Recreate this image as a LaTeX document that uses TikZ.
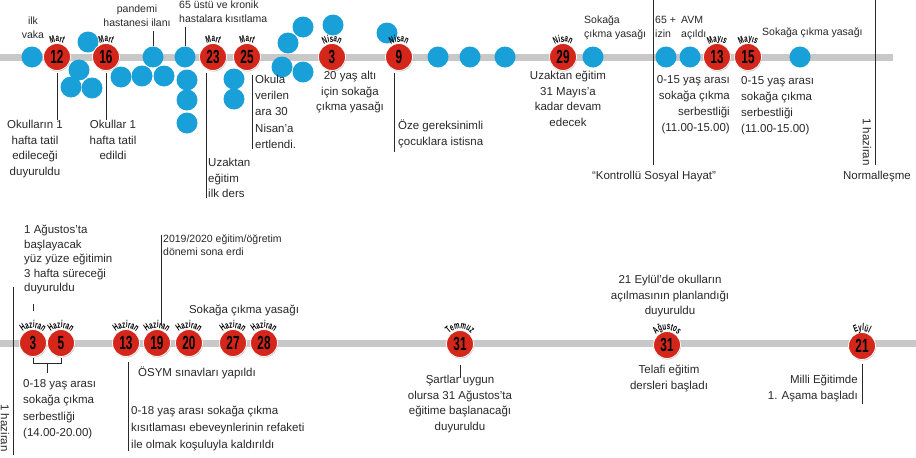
\documentclass[tikz,border=0pt]{standalone}
\usepackage{fontspec}
\setmainfont{Liberation Sans}
\newfontfamily\numfont{Liberation Sans}[FakeStretch=0.62]
\usetikzlibrary{calc,decorations.text,shadows}

\definecolor{pinred}{RGB}{212,38,26}
\definecolor{dotblue}{RGB}{26,160,216}
\definecolor{trackgray}{RGB}{200,200,200}
\definecolor{inkgray}{RGB}{40,40,40}

\newcommand{\monthfont}{\numfont\bfseries\fontsize{10}{10}\selectfont}

\tikzset{
  redpin/.style={circle, fill=pinred, draw=white, line width=0.8pt,
    minimum size=27pt, inner sep=0pt, text=black,
    font=\numfont\bfseries\fontsize{19}{19}\selectfont,
    drop shadow={shadow xshift=0.5pt, shadow yshift=-1pt, opacity=0.45}},
  bluedot/.style={circle, fill=dotblue, minimum size=21pt, inner sep=0pt},
  track/.style={trackgray, line width=7pt},
  note/.style={font=\fontsize{11.5}{#1}\selectfont, text=inkgray,
    inner sep=0pt, align=center},
  note/.default=15.5,
  topnote/.style={note, font=\fontsize{10.5}{14}\selectfont},
  smallnote/.style={note, font=\fontsize{10.5}{12.5}\selectfont},
  link/.style={draw=inkgray, line width=0.7pt},
}

% date circle with the month bent over its top
\newcommand{\datepin}[4]{%
  \node[redpin] (#1) at (#2) {#3};
  \path[decorate, decoration={text along path, text align=center,
      text={|\monthfont|#4}}]
    ([shift={(215:15)}]#1.center) arc[start angle=215, end angle=325, radius=15];
}

\begin{document}
\begin{tikzpicture}[x=1pt, y=-1pt]
\useasboundingbox (0,0) rectangle (916,458);

\coordinate (topL) at (0,57);
\coordinate (topR) at (893,57);
\coordinate (botL) at (0,343);
\coordinate (botR) at (916,343);
\draw[track] (topL) -- (topR);
\draw[track] (botL) -- (botR);

% blue dots
\foreach \x/\y [count=\i] in {32/57, 88/42, 79/70, 71/87, 92/88, 121/77, 142/76,
    164/76, 187/80, 187/100, 187/123, 234/79, 234/99, 303/27, 288/43, 282/67,
    303/72, 333/25, 387/33, 438/57, 470/57, 505/57, 593/57, 666/57, 690/57, 800/57}
  \node[bluedot] (b\i) at (\x,\y) {};
\node[bluedot] (bPand) at (153,57) {};
\node[bluedot] (bYasli) at (185,57) {};

% top row
\datepin{m12}{57,57}{12}{Mart}
\datepin{m16}{106,57}{16}{Mart}
\datepin{m23}{213,57}{23}{Mart}
\datepin{m25}{247,57}{25}{Mart}
\datepin{n3}{332,57}{3}{Nisan}
\datepin{n9}{399,57}{9}{Nisan}
\datepin{n29}{563,57}{29}{Nisan}
\datepin{y13}{717,57}{13}{Mayıs}
\datepin{y15}{748,57}{15}{Mayıs}

\node[topnote, anchor=north] (tVaka) at (33,17) {ilk\\vaka};
\node[topnote, anchor=north] (tPand) at (137,5) {pandemi\\hastanesi ilanı};
\draw[link, shorten >=4pt] (bPand.north) -- (bPand.north |- tPand.south);
\node[topnote, anchor=north west, align=left] (tYasli) at (179,1) {65 üstü ve kronik\\hastalara kısıtlama};
\draw[link, shorten >=4pt] (bYasli.north) -- (bYasli.north |- tYasli.south);

\node[note, anchor=north] (tOkul1) at (35,120) {Okulların 1\\hafta tatil\\edileceği\\duyuruldu};
\draw[link] ([yshift=-2pt]m12.south) -- (m12.south |- tOkul1.north);
\node[note, anchor=north] (tOkul2) at (113,120) {Okullar 1\\hafta tatil\\edildi};
\draw[link] ([yshift=-2pt]m16.south) -- (m16.south |- tOkul2.north);

\node[note, anchor=north west, align=left] (tUzak) at (208,158) {Uzaktan\\eğitim\\ilk ders};
\draw[link] ([xshift=-2pt,yshift=-2pt]tUzak.west |- m23.south) -- ([xshift=-2pt]tUzak.south west);
\node[note=16.2, anchor=north west, align=left] (tAra) at (255,75) {Okula\\verilen\\ara 30\\Nisan’a\\ertlendi.};
\draw[link] ([xshift=-3pt,yshift=-4pt]tAra.west |- m25.south) -- ([xshift=-3pt]tAra.south west);
\node[note, anchor=north] (tYirmi) at (350,71) {20 yaş altı\\için sokağa\\çıkma yasağı};
\node[note, anchor=north west, align=left] (tOze) at (398,120) {Öze gereksinimli\\çocuklara istisna};
\draw[link] ([xshift=-4pt,yshift=-2pt]tOze.west |- n9.south) -- ([xshift=-4pt,yshift=-4pt]tOze.south west);
\node[note, anchor=north] (tMayis) at (568,71) {Uzaktan eğitim\\31 Mayıs’a\\kadar devam\\edecek};

\node[topnote, anchor=north west, align=left] (tSokak1) at (584,16) {Sokağa\\çıkma yasağı};
\node[topnote, anchor=north west, align=left] (tIzin) at (655,16) {65 +\\izin};
\node[topnote, anchor=north west, align=left] (tAvm) at (681,16) {AVM\\açıldı};
\node[topnote, anchor=west] (tSokak2) at (762,33) {Sokağa çıkma yasağı};
\node[note=16, anchor=north east, align=right] (tSerb1) at (730,75) {0-15 yaş arası\\sokağa çıkma\\serbestliği\\(11.00-15.00)};
\node[note=16, anchor=north west, align=left] (tSerb2) at (741,76) {0-15 yaş arası\\sokağa çıkma\\serbestliği\\(11.00-15.00)};

\coordinate (kTop) at (653,0);
\node[note] (tKontrol) at (654,177) {“Kontrollü Sosyal Hayat”};
\draw[link, shorten >=6pt] (kTop) -- (kTop |- tKontrol.north);
\coordinate (nTop) at (875,0);
\node[note] (tNormal) at (877,177) {Normalleşme};
\draw[link, shorten >=6pt] (nTop) -- (nTop |- tNormal.north);
\node[note, rotate=-90] (tHaz1) at (867,142) {1 haziran};

% bottom row
\datepin{h3}{33,343}{3}{Haziran}
\datepin{h5}{61,343}{5}{Haziran}
\datepin{h13}{126,343}{13}{Haziran}
\datepin{h19}{157,343}{19}{Haziran}
\datepin{h20}{189,343}{20}{Haziran}
\datepin{h27}{233,343}{27}{Haziran}
\datepin{h28}{264,343}{28}{Haziran}
\datepin{t31}{460,344}{31}{Temmuz}
\datepin{a31}{667,345}{31}{Ağustos}
\datepin{e21}{862,346}{21}{Eylül}

\node[note=14.5, anchor=north west, align=left] (tAgu) at (24,225) {1 Ağustos’ta\\başlayacak\\yüz yüze eğitimin\\3 hafta süreceği\\duyuruldu};
\draw[link] ([yshift=-10pt]h3 |- tAgu.south) -- ([yshift=18pt]h3.north);
\node[smallnote, anchor=north west, align=left] (tDonem) at (163,235) {2019/2020 eğitim/öğretim\\dönemi sona erdi};
\draw[link] ([xshift=-1.5pt]tDonem.north west) -- ([xshift=-1.5pt,yshift=3.5pt]tDonem.north west |- h19.north);
\node[note] (tSokak3) at (244,310) {Sokağa çıkma yasağı};

\coordinate (brk) at ($(h3.south)!0.5!(h5.south)+(0,6.5)$);
\draw[link] ([yshift=-1.5pt]h3.south) |- (brk) -| ([yshift=-1.5pt]h5.south);
\node[note=16.5, anchor=north west, align=left] (t018a) at (23,379) {0-18 yaş arası\\sokağa çıkma\\serbestliği\\(14.00-20.00)};
\draw[link, shorten >=6pt] (brk) -- (brk |- t018a.north);

\node[note, anchor=west] (tOsym) at (138,373) {ÖSYM sınavları yapıldı};
\node[note=16.8, anchor=north west, align=left] (t018b) at (131,406) {0-18 yaş arası sokağa çıkma\\kısıtlaması ebeveynlerinin refaketi\\ile olmak koşuluyla kaldırıldı};
\draw[link] ([xshift=-3pt,yshift=-5pt]t018b.west |- h13.south) -- ([xshift=-3pt]t018b.south west);

\node[note, anchor=north] (tSart) at (460,375) {Şartlar uygun\\olursa 31 Ağustos’ta\\eğitime başlanacağı\\duyuruldu};
\draw[link] ([yshift=-7pt]t31.south) -- ([yshift=-3pt]tSart.north);
\node[note, anchor=north] (tEylul) at (670,275) {21 Eylül’de okulların\\açılmasının planlandığı\\duyuruldu};
\node[note, anchor=north] (tTelafi) at (669,365) {Telafi eğitim\\dersleri başladı};
\node[note, anchor=north east, align=right] (tMilli) at (858,375) {Milli Eğitimde\\1. Aşama başladı};
\draw[link] ([yshift=-4pt]e21.south) -- ([yshift=-2pt]e21.south |- tMilli.south);

\coordinate (hzTop) at (13,287);
\coordinate (hzBot) at (13,455);
\draw[link] (hzTop) -- (hzBot);
\node[note, rotate=-90] (tHaz2) at (5,428) {1 haziran};

\end{tikzpicture}
\end{document}
